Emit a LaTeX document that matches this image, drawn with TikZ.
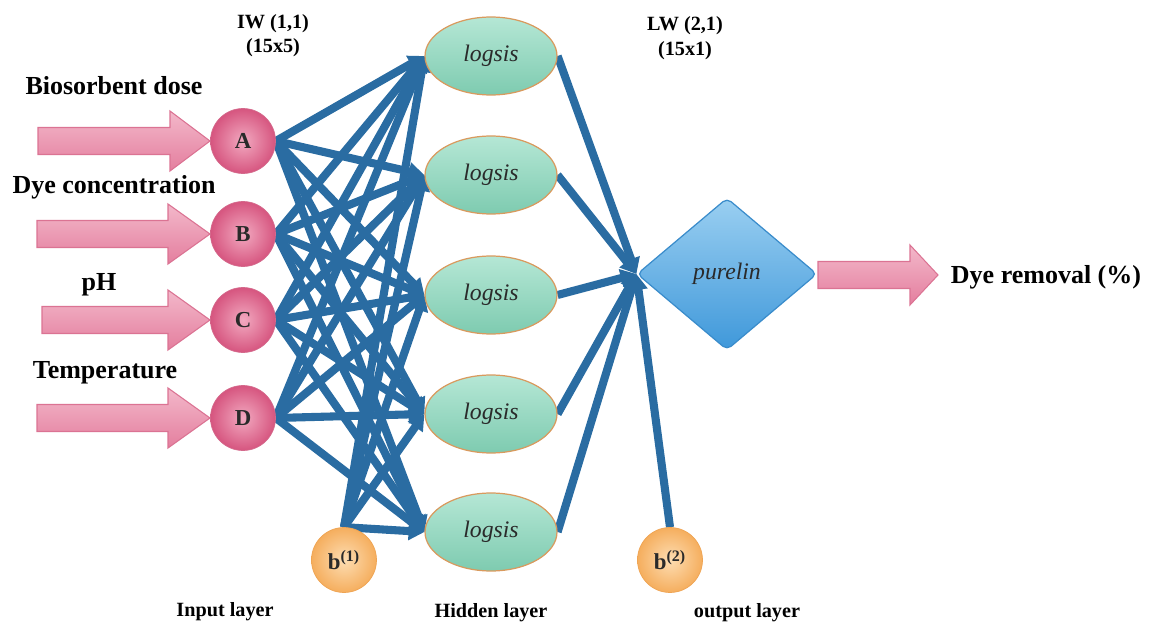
\documentclass[tikz,border=0pt]{standalone}
\usepackage{fontspec}
\setmainfont{Liberation Serif}
\usetikzlibrary{shapes.geometric,arrows.meta,backgrounds}
\definecolor{pinkD}{HTML}{D6557F}
\definecolor{pinkL}{HTML}{F2A9C0}
\definecolor{pinkB}{HTML}{D46A8C}
\definecolor{arrL}{HTML}{F3B8CA}
\definecolor{arrD}{HTML}{E47E9E}
\definecolor{arrB}{HTML}{DB7393}
\definecolor{greenL}{HTML}{B5E7D5}
\definecolor{greenD}{HTML}{7ECBB0}
\definecolor{ellB}{HTML}{D99A5E}
\definecolor{blueL}{HTML}{9ACFF1}
\definecolor{blueD}{HTML}{3F98DA}
\definecolor{blueB}{HTML}{3A8CCB}
\definecolor{orL}{HTML}{FDDDB2}
\definecolor{orD}{HTML}{F5AE5E}
\definecolor{orB}{HTML}{EFA453}
\definecolor{lineblue}{HTML}{2A6CA2}
\definecolor{txt}{HTML}{2A2A2A}
\newcommand\fatarr[4]{% x1, headbase, tip, y
  \draw[fatarrow] (#1,#4-13.5) -- (#2,#4-13.5) -- (#2,#4-30) -- (#3,#4)
     -- (#2,#4+30) -- (#2,#4+13.5) -- (#1,#4+13.5) -- cycle;}
\begin{document}
\begin{tikzpicture}[x=0.02cm,y=-0.02cm,
  fatarrow/.style={draw=arrB, line width=0.6pt, top color=arrL, bottom color=arrD},
  inp/.style={circle, minimum size=1.3cm, inner sep=0pt, draw=pinkB, line width=0.4pt,
    inner color=pinkL, outer color=pinkD, font=\fontsize{13}{13}\selectfont\bfseries, text=txt},
  hid/.style={ellipse, minimum width=2.64cm, minimum height=1.56cm, inner sep=0pt,
    draw=ellB, line width=0.7pt, top color=greenL, bottom color=greenD,
    font=\fontsize{13.5}{13.5}\selectfont\itshape, text=txt},
  outn/.style={diamond, minimum width=3.6cm, minimum height=3.04cm, inner sep=0pt,
    draw=blueB, line width=0.7pt, rounded corners=3pt, top color=blueL, bottom color=blueD,
    font=\fontsize{13.5}{13.5}\selectfont\itshape, text=txt},
  bias/.style={circle, minimum size=1.3cm, inner sep=0pt, draw=orB, line width=0.4pt,
    inner color=orL, outer color=orD, font=\fontsize{13}{13}\selectfont\bfseries, text=txt},
  lbl/.style={font=\fontsize{14.8}{16}\selectfont\bfseries, inner sep=0pt},
  small/.style={font=\fontsize{11.5}{13}\selectfont\bfseries, inner sep=0pt},
  conn/.style={draw=lineblue, line width=4.6pt, -{Triangle[length=9pt,width=10pt]}}]
\useasboundingbox (0,0) rectangle (1150,625);

% input arrows
\fatarr{38}{170}{210}{141}
\fatarr{37}{168}{210}{234}
\fatarr{42}{168}{210}{320}
\fatarr{37}{168}{210}{418}
\fatarr{818}{910}{938}{275}

% nodes
\node[inp] (A) at (243,141) {A};
\node[inp] (B) at (243,234) {B};
\node[inp] (C) at (243,320) {C};
\node[inp] (D) at (243,418) {D};
\node[hid] (h1) at (491,56) {logsis};
\node[hid] (h2) at (491,175) {logsis};
\node[hid] (h3) at (491,295) {logsis};
\node[hid] (h4) at (491,414) {logsis};
\node[hid] (h5) at (491,532) {logsis};
\node[outn] (o) at (727,274) {purelin};
\node[bias] (b1) at (344,560) {b\textsuperscript{(1)}};
\node[bias] (b2) at (670,560) {b\textsuperscript{(2)}};

% connections
\begin{scope}[on background layer]
\foreach \i in {A,B,C,D}{\foreach \j in {1,...,5}{\draw[conn] (\i.east) -- (h\j.west);}}
\foreach \j in {1,...,5}{\draw[conn] (b1.north) -- (h\j.west);}
\foreach \j in {1,...,5}{\draw[conn] (h\j.east) -- (o.west);}
\draw[conn] (b2.north) -- (o.west);
\end{scope}

% labels
\node[lbl] (t1) at (114,86) {Biosorbent dose};
\node[lbl] (t2) at (114,187) {Dye concentration};
\node[lbl] (t3) at (99,285) {pH};
\node[lbl] (t4) at (105,373) {Temperature};
\node[lbl] (t5) at (1046,277) {Dye removal (\%)};
\node[small] (iw1) at (273,24) {IW (1,1)};
\node[small] (iw2) at (273,48) {(15x5)};
\node[small] (lw1) at (685,26) {LW (2,1)};
\node[small] (lw2) at (685,51) {(15x1)};
\node[small] (l1) at (225,612) {Input layer};
\node[small] (l2) at (491,613) {Hidden layer};
\node[small] (l3) at (747,613) {output layer};
\end{tikzpicture}
\end{document}
